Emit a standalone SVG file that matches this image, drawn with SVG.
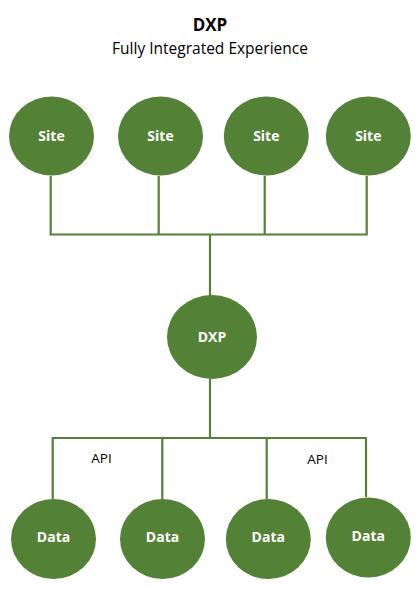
<svg xmlns="http://www.w3.org/2000/svg" width="420" height="590" viewBox="0 0 420 590">
<style>
.n{fill:#538135}
.l{font-family:"Open Sans","Liberation Sans",sans-serif;font-weight:bold;font-size:14px;fill:#fff;text-anchor:middle}
.c{stroke:#538135;stroke-width:2.2;fill:none}
.t{font-family:"Open Sans","Liberation Sans",sans-serif;fill:#000;text-anchor:middle}
</style>
<rect width="420" height="590" fill="#fff"/>
<text class="t" x="210" y="30.5" font-size="17" font-weight="bold">DXP</text>
<text class="t" x="210" y="54.3" font-size="15.5">Fully Integrated Experience</text>
<g id="connectors">
<path class="c" d="M50.7 176V234.5M158.7 176V234.5M264.7 176V234.5M366.7 176V234.5M49.6 234.5H367.8M210 234.5V296"/>
<path class="c" d="M210 379V438M51.7 438H366.7M52.7 438V499M162.3 438V499M266.7 438V499M366 438V497"/>
<text class="t" x="101.5" y="463" font-size="13.5">API</text>
<text class="t" x="317.5" y="463.5" font-size="13.5">API</text>
</g>
<g id="site1"><ellipse class="n" cx="51.5" cy="136" rx="42.5" ry="39.5"/><text class="l" x="51.5" y="141">Site</text></g>
<g id="site2"><ellipse class="n" cx="160.5" cy="136" rx="42.5" ry="39.5"/><text class="l" x="160.5" y="141">Site</text></g>
<g id="site3"><ellipse class="n" cx="266.3" cy="136" rx="42.5" ry="39.5"/><text class="l" x="266.3" y="141">Site</text></g>
<g id="site4"><ellipse class="n" cx="368.3" cy="136" rx="42.5" ry="39.5"/><text class="l" x="368.3" y="141">Site</text></g>
<g id="dxp"><ellipse class="n" cx="212" cy="337" rx="45" ry="42"/><text class="l" x="212" y="342">DXP</text></g>
<g id="data1"><ellipse class="n" cx="53.5" cy="539" rx="42.5" ry="40"/><text class="l" x="53.5" y="542">Data</text></g>
<g id="data2"><ellipse class="n" cx="162.5" cy="539" rx="42.5" ry="40"/><text class="l" x="162.5" y="542">Data</text></g>
<g id="data3"><ellipse class="n" cx="268.3" cy="539" rx="42.5" ry="40"/><text class="l" x="268.3" y="542">Data</text></g>
<g id="data4"><ellipse class="n" cx="368.3" cy="537.5" rx="42.5" ry="40"/><text class="l" x="368.3" y="541">Data</text></g>
</svg>
